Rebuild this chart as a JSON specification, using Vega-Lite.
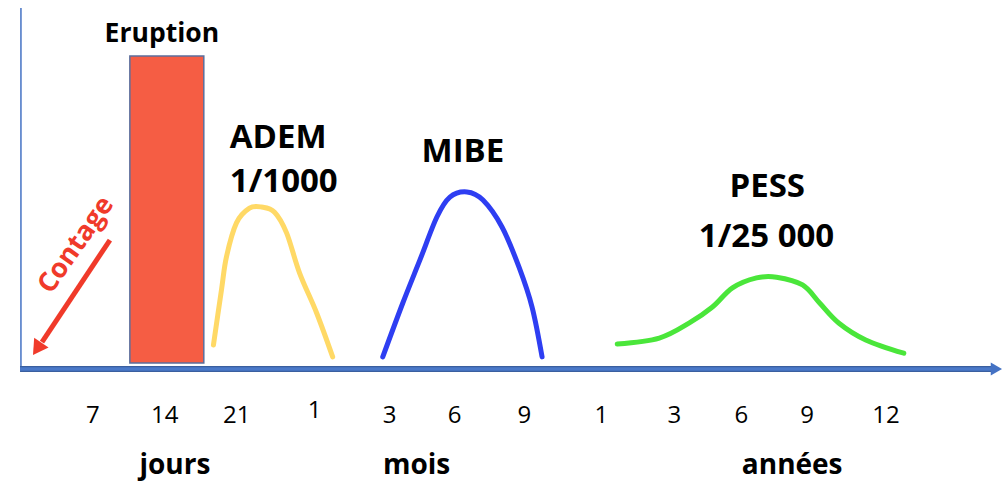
{
  "$schema": "https://vega.github.io/schema/vega-lite/v6.json",
  "width": 1003,
  "height": 482,
  "autosize": {"type": "fit", "contains": "padding"},
  "padding": 0,
  "background": "white",
  "config": {"view": {"stroke": null}, "font": "Open Sans"},
  "datasets": {
    "bar": [{"phase": "Eruption", "x": 12.96, "x2": 20.34, "y": 1.63, "y2": 84.8}],
    "curves": [
      {"series": "ADEM", "x": 21.3, "y": 6.5},
      {"series": "ADEM", "x": 22.1, "y": 21.4},
      {"series": "ADEM", "x": 22.6, "y": 30.4},
      {"series": "ADEM", "x": 23.6, "y": 39.6},
      {"series": "ADEM", "x": 24.9, "y": 43.6},
      {"series": "ADEM", "x": 26.1, "y": 43.9},
      {"series": "ADEM", "x": 27.4, "y": 42.5},
      {"series": "ADEM", "x": 28.6, "y": 36.9},
      {"series": "ADEM", "x": 29.9, "y": 26.0},
      {"series": "ADEM", "x": 31.6, "y": 15.2},
      {"series": "ADEM", "x": 33.2, "y": 3.3},
      {"series": "MIBE", "x": 38.2, "y": 3.3},
      {"series": "MIBE", "x": 40.2, "y": 17.9},
      {"series": "MIBE", "x": 41.9, "y": 29.5},
      {"series": "MIBE", "x": 43.6, "y": 41.2},
      {"series": "MIBE", "x": 44.9, "y": 46.6},
      {"series": "MIBE", "x": 46.6, "y": 48.0},
      {"series": "MIBE", "x": 48.2, "y": 45.8},
      {"series": "MIBE", "x": 50.1, "y": 38.5},
      {"series": "MIBE", "x": 51.8, "y": 27.6},
      {"series": "MIBE", "x": 53.1, "y": 16.8},
      {"series": "MIBE", "x": 54.1, "y": 3.3},
      {"series": "PESS", "x": 61.6, "y": 6.8},
      {"series": "PESS", "x": 65.8, "y": 8.4},
      {"series": "PESS", "x": 68.8, "y": 12.5},
      {"series": "PESS", "x": 71.1, "y": 16.8},
      {"series": "PESS", "x": 73.1, "y": 22.0},
      {"series": "PESS", "x": 75.5, "y": 24.7},
      {"series": "PESS", "x": 77.5, "y": 24.9},
      {"series": "PESS", "x": 80.1, "y": 22.8},
      {"series": "PESS", "x": 81.8, "y": 17.9},
      {"series": "PESS", "x": 83.7, "y": 12.5},
      {"series": "PESS", "x": 86.4, "y": 7.9},
      {"series": "PESS", "x": 90.2, "y": 4.3}
    ],
    "titlesLeft": [
      {"text": "ADEM", "x": 22.93, "y": 59.9},
      {"text": "1/1000", "x": 22.93, "y": 48.0}
    ],
    "titlesCenter": [
      {"text": "MIBE", "x": 46.2, "y": 56.1},
      {"text": "PESS", "x": 76.57, "y": 46.6},
      {"text": "1/25 000", "x": 76.5, "y": 33.1}
    ],
    "ticks": [
      {"label": "7", "x": 9.27, "y": -14.6},
      {"label": "14", "x": 16.45, "y": -14.6},
      {"label": "21", "x": 23.63, "y": -14.6},
      {"label": "1", "x": 31.41, "y": -13.3},
      {"label": "3", "x": 38.88, "y": -14.6},
      {"label": "6", "x": 45.36, "y": -14.6},
      {"label": "9", "x": 52.34, "y": -14.6},
      {"label": "1", "x": 60.02, "y": -14.6},
      {"label": "3", "x": 67.3, "y": -14.6},
      {"label": "6", "x": 73.98, "y": -14.6},
      {"label": "9", "x": 80.56, "y": -14.6},
      {"label": "12", "x": 88.43, "y": -14.6}
    ],
    "units": [
      {"unit": "jours", "x": 17.45, "y": -28.5},
      {"unit": "mois", "x": 41.58, "y": -28.5},
      {"unit": "années", "x": 79.06, "y": -28.3}
    ]
  },
  "encoding": {
    "x": {"type": "quantitative", "scale": {"domain": [0, 100], "nice": false, "zero": false}, "axis": null},
    "y": {"type": "quantitative", "scale": {"domain": [-30.6, 100], "nice": false, "zero": false}, "axis": null}
  },
  "layer": [
    {
      "data": {"name": "bar"},
      "mark": {"type": "rect", "fill": "#f55d44", "stroke": "#5b6e9c", "strokeWidth": 1.5},
      "encoding": {"x": {"field": "x"}, "x2": {"field": "x2"}, "y": {"field": "y"}, "y2": {"field": "y2"}}
    },
    {
      "data": {"name": "bar"},
      "mark": {"type": "text", "fontSize": 26.5, "fontWeight": "bold", "color": "black", "align": "center", "baseline": "alphabetic"},
      "encoding": {"x": {"datum": 16.15}, "y": {"datum": 88.6}, "text": {"field": "phase"}}
    },
    {
      "data": {"name": "curves"},
      "mark": {"type": "line", "strokeWidth": 5, "strokeCap": "round", "interpolate": "cardinal"},
      "encoding": {
        "x": {"field": "x"},
        "y": {"field": "y"},
        "color": {"field": "series", "type": "nominal", "scale": {"domain": ["ADEM", "MIBE", "PESS"], "range": ["#ffd966", "#2e3ef2", "#4ae63a"]}, "legend": null}
      }
    },
    {
      "data": {"values": [{"x": 2.09, "y": 0, "y2": 97.8}]},
      "mark": {"type": "rule", "color": "#4472c4", "strokeWidth": 1.5},
      "encoding": {"x": {"field": "x"}, "y": {"field": "y"}, "y2": {"field": "y2"}}
    },
    {
      "data": {"values": [{"x": 2.0, "x2": 99.2, "y": 0}]},
      "mark": {"type": "rule", "color": "#3a5f9f", "strokeWidth": 6},
      "encoding": {"x": {"field": "x"}, "x2": {"field": "x2"}, "y": {"field": "y"}}
    },
    {
      "data": {"values": [{"x": 2.0, "x2": 99.2, "y": 0}]},
      "mark": {"type": "rule", "color": "#4a79c9", "strokeWidth": 3.5},
      "encoding": {"x": {"field": "x"}, "x2": {"field": "x2"}, "y": {"field": "y"}}
    },
    {
      "data": {"values": [{"x": 99.44, "y": 0}]},
      "mark": {"type": "point", "shape": "triangle-up", "filled": true, "color": "#4472c4", "size": 170, "angle": 90, "opacity": 1},
      "encoding": {"x": {"field": "x"}, "y": {"field": "y"}}
    },
    {
      "data": {"values": [{"x": 10.97, "y": 34.96, "x2": 4.19, "y2": 7.32}]},
      "mark": {"type": "rule", "color": "#f03a2a", "strokeWidth": 5},
      "encoding": {"x": {"field": "x"}, "y": {"field": "y"}, "x2": {"field": "x2"}, "y2": {"field": "y2"}}
    },
    {
      "data": {"values": [{"x": 3.71, "y": 5.47}]},
      "mark": {"type": "point", "shape": "triangle-up", "filled": true, "color": "#f03a2a", "size": 300, "angle": 214, "opacity": 1},
      "encoding": {"x": {"field": "x"}, "y": {"field": "y"}}
    },
    {
      "data": {"values": [{"label": "Contage", "x": 7.6, "y": 33.6}]},
      "mark": {"type": "text", "fontSize": 27, "fontWeight": "bold", "color": "#f03a2a", "angle": -55, "align": "center", "baseline": "middle"},
      "encoding": {"x": {"field": "x"}, "y": {"field": "y"}, "text": {"field": "label"}}
    },
    {
      "data": {"name": "titlesLeft"},
      "mark": {"type": "text", "fontSize": 33, "fontWeight": "bold", "color": "black", "align": "left", "baseline": "alphabetic"},
      "encoding": {"x": {"field": "x"}, "y": {"field": "y"}, "text": {"field": "text"}}
    },
    {
      "data": {"name": "titlesCenter"},
      "mark": {"type": "text", "fontSize": 33, "fontWeight": "bold", "color": "black", "align": "center", "baseline": "alphabetic"},
      "encoding": {"x": {"field": "x"}, "y": {"field": "y"}, "text": {"field": "text"}}
    },
    {
      "data": {"name": "ticks"},
      "mark": {"type": "text", "fontSize": 24, "color": "black", "align": "center", "baseline": "alphabetic"},
      "encoding": {"x": {"field": "x"}, "y": {"field": "y"}, "text": {"field": "label"}}
    },
    {
      "data": {"name": "units"},
      "mark": {"type": "text", "fontSize": 28, "fontWeight": "bold", "color": "black", "align": "center", "baseline": "alphabetic"},
      "encoding": {"x": {"field": "x"}, "y": {"field": "y"}, "text": {"field": "unit"}}
    }
  ]
}
